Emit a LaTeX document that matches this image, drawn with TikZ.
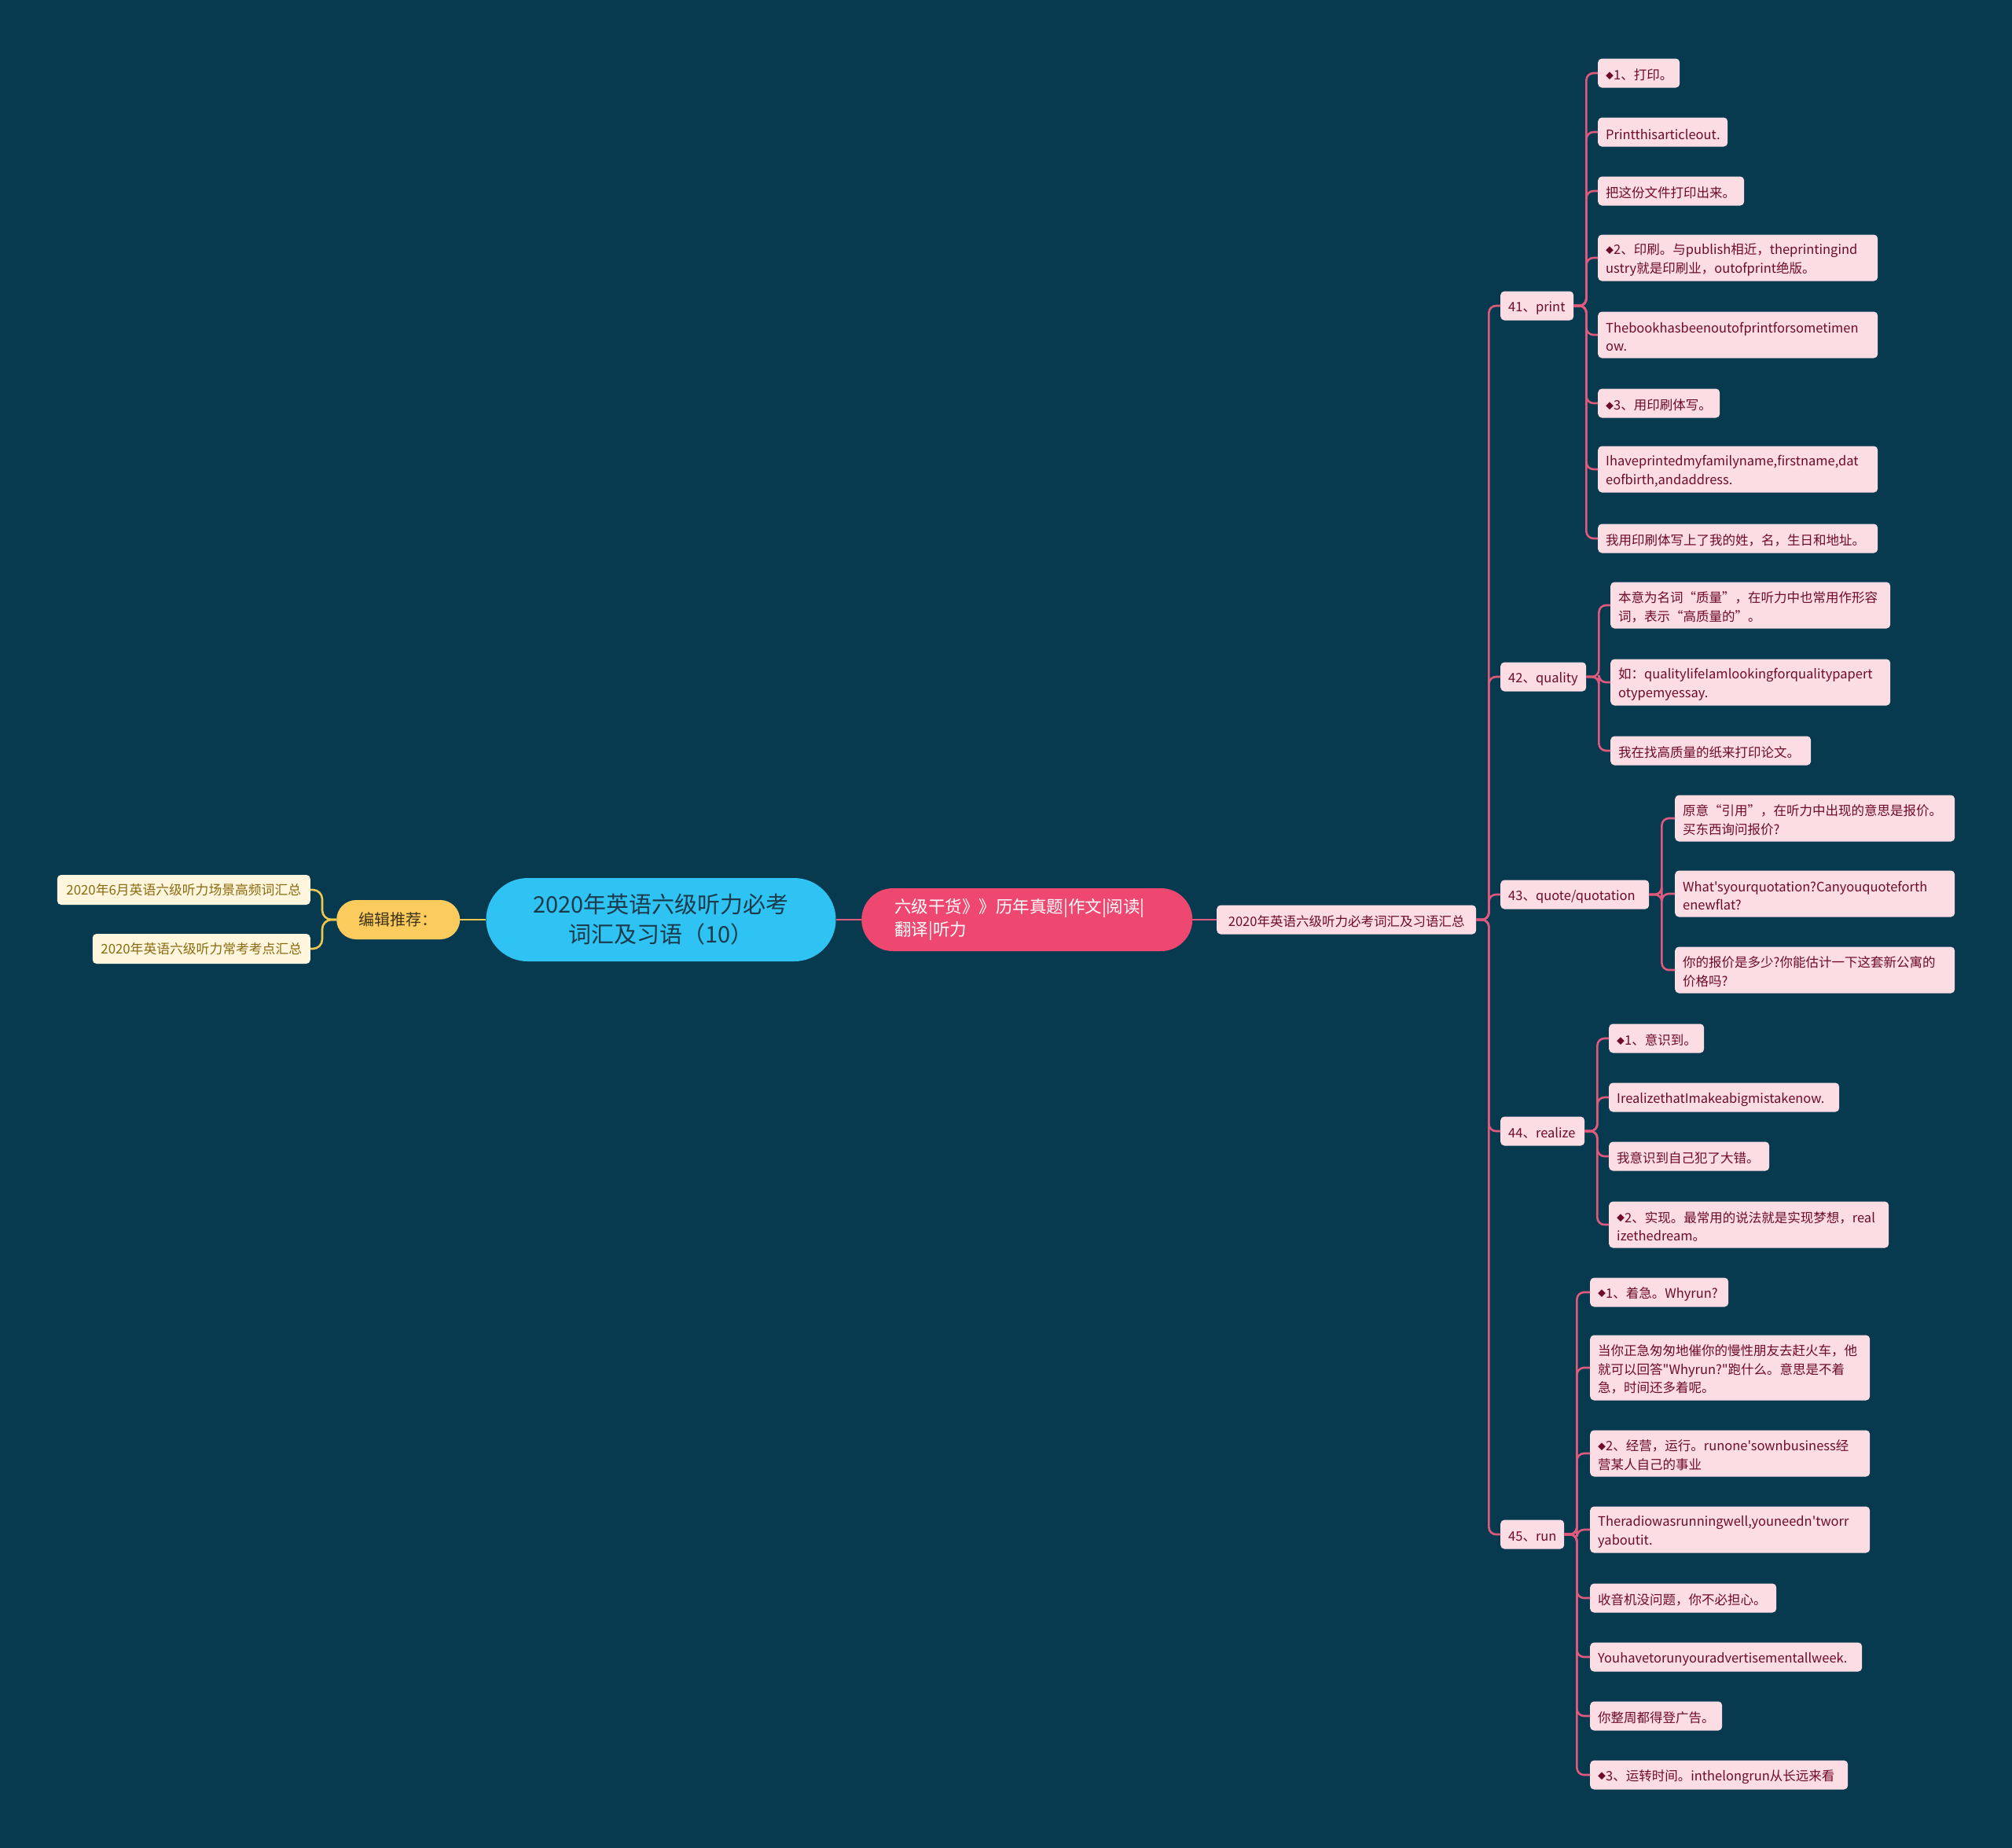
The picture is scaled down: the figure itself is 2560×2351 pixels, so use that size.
\documentclass[tikz,border=0pt]{standalone}
\usepackage{fontspec}
\newfontfamily\cjk{Noto Sans CJK SC}
\hyphenpenalty=10000
\exhyphenpenalty=10000
\definecolor{bg}{HTML}{073A4F}
\definecolor{rootfill}{HTML}{2EC3F2}
\definecolor{roottext}{HTML}{1B3A4B}
\definecolor{mainfill}{HTML}{EE4870}
\definecolor{recfill}{HTML}{FBCB5E}
\definecolor{rectext}{HTML}{3E3317}
\definecolor{creamfill}{HTML}{FFF6DD}
\definecolor{creamtext}{HTML}{8A6A10}
\definecolor{pinkfill}{HTML}{FCDDE3}
\definecolor{pinktext}{HTML}{6E0B2B}
\definecolor{pinkline}{HTML}{DF5A7D}
\definecolor{yline}{HTML}{EFC94F}
\newcommand\bulletdia{\raisebox{1.5pt}{\fontsize{10}{10}\selectfont ◆}}
\tikzset{
  box/.style={font=\cjk\fontsize{16.5}{23.5}\selectfont, fill=pinkfill, text=pinktext,
    rounded corners=5, inner xsep=10, inner ysep=5, minimum height=37, anchor=west, align=left,
    execute at begin node={\rule{0pt}{18.5pt}}},
  two/.style={minimum height=59},
  three/.style={minimum height=83},
  cream/.style={font=\cjk\fontsize{16.8}{22}\selectfont, fill=creamfill, text=creamtext,
    rounded corners=5, inner xsep=6, inner ysep=5, minimum height=38, anchor=east, align=center},
  pconn/.style={draw=pinkline, line width=2.6, rounded corners=9},
  yconn/.style={draw=yline, line width=2.6, rounded corners=12},
}
\begin{document}
\begin{tikzpicture}[x=1pt,y=-1pt]
\useasboundingbox (0,0) rectangle (2560,2351);
\fill[bg] (0,0) rectangle (2560,2351);

% central part
\node[fill=rootfill, text=roottext, font=\cjk\fontsize{29}{38}\selectfont, align=center,
  minimum width=445, minimum height=106, rounded corners=53, inner sep=0] (root) at (841,1170)
  {2020年英语六级听力必考\\词汇及习语（10）};
\node[fill=mainfill, text=white, font=\cjk\fontsize{21.5}{29.5}\selectfont, align=left,
  text width=337pt, inner xsep=42, minimum height=80, rounded corners=40, anchor=west] (main) at (1096,1170)
  {六级干货》》历年真题|作文|阅读|\\翻译|听力};
\node[fill=recfill, text=rectext, font=\cjk\fontsize{20}{24}\selectfont, align=center,
  minimum width=157, minimum height=50, rounded corners=25, anchor=west] (rec) at (428,1170)
  {编辑推荐：};
\node[cream, minimum width=322] (L1) at (395,1132) {2020年6月英语六级听力场景高频词汇总};
\node[cream, minimum width=277] (L2) at (395,1207) {2020年英语六级听力常考考点汇总};
\node[box, text width=310pt, align=center] (hub) at (1548,1170) {2020年英语六级听力必考词汇及习语汇总};

\draw[pconn] (root.east) -- (main.west);
\draw[pconn] (main.east) -- (hub.west);
\draw[yconn] (root.west) -- (rec.east);
\draw[yconn] (rec.west) -- ++(-18,0) |- (L1.east);
\draw[yconn] (rec.west) -- ++(-18,0) |- (L2.east);

% second level
\node[box, text width=73pt] (n41) at (1909,389) {41、print};
\node[box, text width=89pt] (n42) at (1909,861) {42、quality};
\node[box, text width=169pt] (n43) at (1909,1138) {43、quote/quotation};
\node[box, text width=87pt] (n44) at (1909,1439) {44、realize};
\node[box, text width=61pt] (n45) at (1909,1952) {45、run};
\foreach \n in {n41,n42,n43,n44,n45}
  \draw[pconn] (hub.east) -- ++(16,0) |- (\n.west);

% 41 print
\node[box, text width=84pt] (a1) at (2033,93) {\bulletdia1、打印。};
\node[box, text width=145pt] (a2) at (2033,168) {Printthisarticleout.};
\node[box, text width=166pt] (a3) at (2033,243) {把这份文件打印出来。};
\node[box, two, text width=336pt] (a4) at (2033,328) {\bulletdia2、印刷。与publish相近，theprintingind\\ustry就是印刷业，outofprint绝版。};
\node[box, two, text width=336pt] (a5) at (2033,426) {Thebookhasbeenoutofprintforsometimen\\ow.};
\node[box, text width=135pt] (a6) at (2033,513) {\bulletdia3、用印刷体写。};
\node[box, two, text width=336pt] (a7) at (2033,597) {Ihaveprintedmyfamilyname,firstname,dat\\eofbirth,andaddress.};
\node[box, text width=336pt] (a8) at (2033,685) {我用印刷体写上了我的姓，名，生日和地址。};
\foreach \n in {a1,a2,a3,a4,a5,a6,a7,a8}
  \draw[pconn] (n41.east) -- ++(16,0) |- (\n.west);

% 42 quality
\node[box, two, text width=336pt] (b1) at (2049,770) {本意为名词“质量”，在听力中也常用作形容\\词，表示“高质量的”。};
\node[box, two, text width=336pt] (b2) at (2049,868) {如：qualitylifeIamlookingforqualitypapert\\otypemyessay.};
\node[box, text width=235pt] (b3) at (2049,955) {我在找高质量的纸来打印论文。};
\foreach \n in {b1,b2,b3}
  \draw[pconn] (n42.east) -- ++(16,0) |- (\n.west);

% 43 quote
\node[box, two, text width=336pt] (c1) at (2131,1041) {原意“引用”，在听力中出现的意思是报价。\\买东西询问报价?};
\node[box, two, text width=336pt] (c2) at (2131,1137) {What'syourquotation?Canyouquoteforth\\enewflat?};
\node[box, two, text width=336pt] (c3) at (2131,1234) {你的报价是多少?你能估计一下这套新公寓的\\价格吗?};
\foreach \n in {c1,c2,c3}
  \draw[pconn] (n43.east) -- ++(16,0) |- (\n.west);

% 44 realize
\node[box, text width=101pt] (d1) at (2047,1321) {\bulletdia1、意识到。};
\node[box, text width=273pt] (d2) at (2047,1396) {IrealizethatImakeabigmistakenow.};
\node[box, text width=184pt] (d3) at (2047,1471) {我意识到自己犯了大错。};
\node[box, two, text width=336pt] (d4) at (2047,1558) {\bulletdia2、实现。最常用的说法就是实现梦想，real\\izethedream。};
\foreach \n in {d1,d2,d3,d4}
  \draw[pconn] (n44.east) -- ++(16,0) |- (\n.west);

% 45 run
\node[box, text width=156pt] (e1) at (2023,1644) {\bulletdia1、着急。Whyrun?};
\node[box, three, text width=336pt] (e2) at (2023,1740) {当你正急匆匆地催你的慢性朋友去赶火车，他\\就可以回答"Whyrun?"跑什么。意思是不着\\急，时间还多着呢。};
\node[box, two, text width=336pt] (e3) at (2023,1849) {\bulletdia2、经营，运行。runone'sownbusiness经\\营某人自己的事业};
\node[box, two, text width=336pt] (e4) at (2023,1946) {Theradiowasrunningwell,youneedn'tworr\\yaboutit.};
\node[box, text width=217pt] (e5) at (2023,2033) {收音机没问题，你不必担心。};
\node[box, text width=326pt] (e6) at (2023,2108) {Youhavetorunyouradvertisementallweek.};
\node[box, text width=148pt] (e7) at (2023,2183) {你整周都得登广告。};
\node[box, text width=308pt] (e8) at (2023,2258) {\bulletdia3、运转时间。inthelongrun从长远来看};
\foreach \n in {e1,e2,e3,e4,e5,e6,e7,e8}
  \draw[pconn] (n45.east) -- ++(16,0) |- (\n.west);
\end{tikzpicture}
\end{document}
